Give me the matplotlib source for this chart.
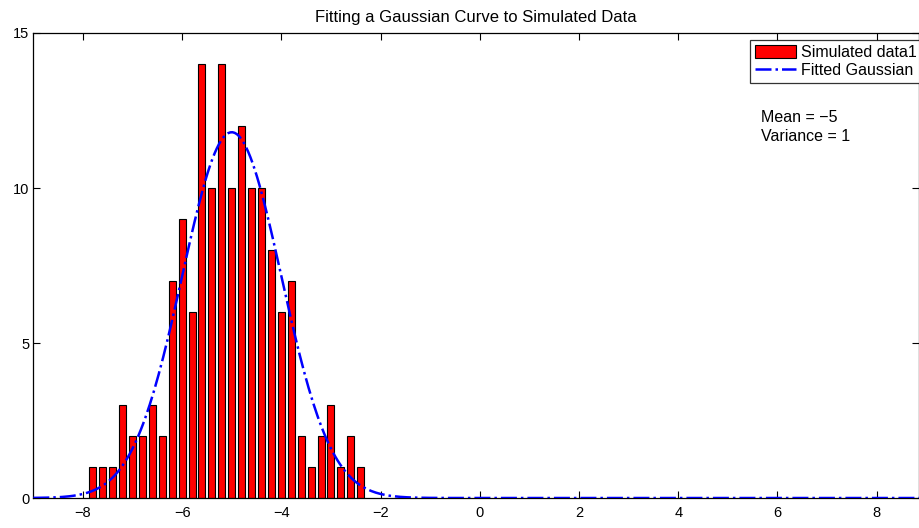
import numpy as np
import matplotlib.pyplot as plt

plt.rcParams['font.family'] = ['Liberation Sans', 'DejaVu Sans']

# histogram bin centres and counts
bin_centers = np.round(np.arange(-7.8, -2.3, 0.2), 2)
counts = [1, 1, 1, 3, 2, 2, 3, 2, 7, 9, 6, 14, 10, 14,
          10, 12, 10, 10, 8, 6, 7, 2, 1, 2, 3, 1, 2, 1]

# fitted gaussian parameters
fit_mean = -5.0
fit_sigma = 1.0
fit_peak = 11.8

x_fit = np.linspace(-9, 9, 400)
y_fit = fit_peak * np.exp(-(x_fit - fit_mean) ** 2 / (2 * fit_sigma ** 2))

fig = plt.figure(figsize=(9.2, 5.28), dpi=100)
ax = fig.add_axes([0.0362, 0.0568, 0.9625, 0.8807])

bars = ax.bar(bin_centers, counts, width=0.14, color='#ff0000', edgecolor='black',
              linewidth=0.8, label='Simulated data1', zorder=2)
line, = ax.plot(x_fit, y_fit, color='#0000ff', linestyle='-.', linewidth=1.8,
                label='Fitted Gaussian', zorder=3)

ax.set_xlim(-9, 8.85)
ax.set_ylim(0, 15)
ax.set_xticks(range(-8, 9, 2))
ax.set_yticks([0, 5, 10, 15])
ax.set_xticklabels([str(v).replace('-', '\u2212') for v in range(-8, 9, 2)])
ax.tick_params(direction='in', top=True, right=True, labelsize=10.5,
               length=5, width=0.8)
ax.tick_params(axis='x', pad=6)
ax.tick_params(axis='y', pad=3)
for s in ax.spines.values():
    s.set_linewidth(0.9)

ax.set_title('Fitting a Gaussian Curve to Simulated Data', fontsize=12, pad=8)

ax.text(5.67, 12.26, 'Mean = \u22125', fontsize=11.5, va='center')
ax.text(5.67, 11.65, 'Variance = 1', fontsize=11.5, va='center')

# legend box runs out to the right edge of the image, as in the original
leg = ax.legend([bars, line], ['Simulated data1', 'Fitted Gaussian'],
                loc='upper right', bbox_to_anchor=(1.003, 0.985),
                fontsize=11.5, frameon=True, fancybox=False,
                borderpad=0.3, handlelength=2.6, handleheight=0.9,
                handletextpad=0.3, labelspacing=0.2, borderaxespad=0.0)
leg.get_frame().set_edgecolor('black')
leg.get_frame().set_linewidth(0.9)

fig.savefig('out.png', dpi=100)
